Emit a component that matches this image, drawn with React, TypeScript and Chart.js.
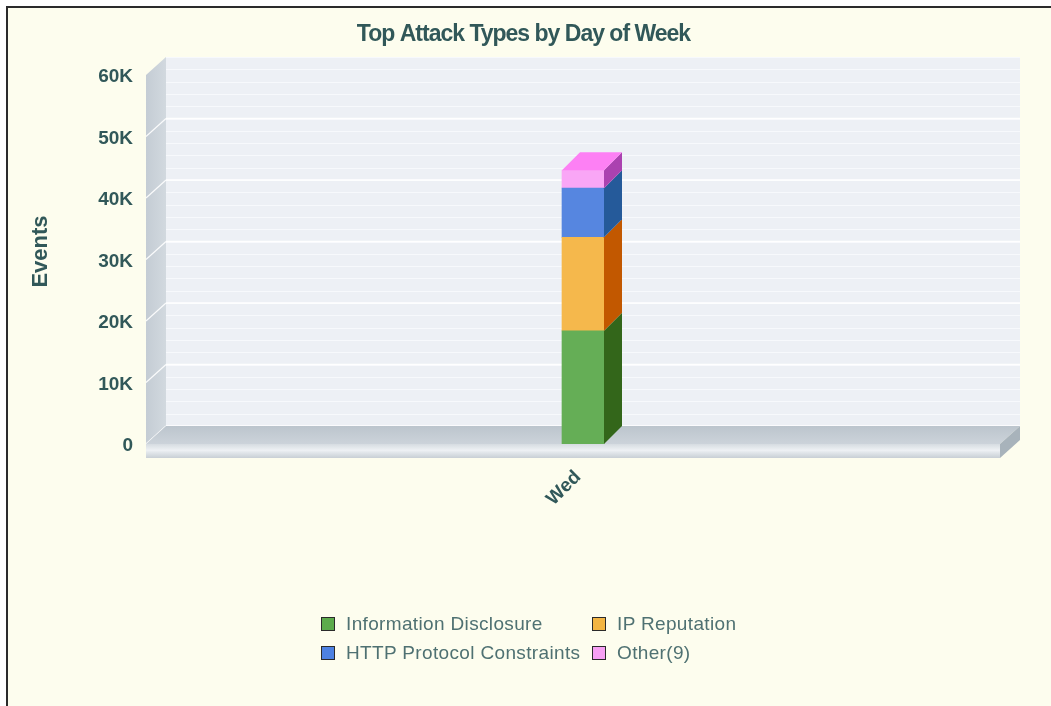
import React, { useEffect, useRef } from "react";
import { Chart, registerables } from "chart.js";

Chart.register(...registerables);

// ---------- data ----------
const categories = ["Wed"];
const seriesNames = [
  "Information Disclosure",
  "IP Reputation",
  "HTTP Protocol Constraints",
  "Other(9)",
];
const informationDisclosure = [18400];
const ipReputation = [15200];
const httpProtocolConstraints = [8000];
const other9 = [2900];
const yTickValues = [0, 10000, 20000, 30000, 40000, 50000, 60000];
const yTickLabels = ["0", "10K", "20K", "30K", "40K", "50K", "60K"];
const chartTitle = "Top Attack Types by Day of Week";
const yAxisTitle = "Events";

// ---------- style ----------
const frontColors = ["#65ae56", "#f5b84c", "#5686e0", "#f9a6f6"];
const sideColors = ["#33661a", "#c25800", "#255a9a", "#ab42b0"];
const topColors = ["#7cc46c", "#ffcc66", "#6f9cf0", "#fd80f4"];
const legendColors = ["#5cab4c", "#f3b543", "#4d81e2", "#f7a0f4"];
const TEXT_DARK = "#315859";
const TEXT_LEGEND = "#4f7172";
const FONT = '"Liberation Sans", Arial, Helvetica, sans-serif';
const WALL_DX = 20;
const WALL_DY = 18;
const FLOOR_H = 14;
const BAR_DX = 18;
const BAR_DY = 18;
const MINOR_STEP = 2000;

const threeDPlugin = {
  id: "threeD",
  beforeDatasetsDraw(chart: any) {
    const { ctx, chartArea } = chart;
    const ys = chart.scales.y;
    const L = chartArea.left;
    const R = chartArea.right;
    const T = chartArea.top;
    const B = chartArea.bottom;
    ctx.save();
    // back wall
    ctx.fillStyle = "#edf0f5";
    ctx.fillRect(L, T - WALL_DY, R + WALL_DX - L, B - T);
    // minor grid lines
    ctx.lineWidth = 1;
    ctx.strokeStyle = "#f7f9fc";
    for (let v = ys.min; v <= ys.max; v += MINOR_STEP) {
      const py = Math.round(ys.getPixelForValue(v) - WALL_DY) + 0.5;
      ctx.beginPath();
      ctx.moveTo(L, py);
      ctx.lineTo(R + WALL_DX, py);
      ctx.stroke();
    }
    // major grid lines
    ctx.strokeStyle = "#ffffff";
    ctx.lineWidth = 1.5;
    ys.ticks.forEach((t: any) => {
      if (t.value >= ys.max) return;
      const py = ys.getPixelForValue(t.value) - WALL_DY;
      ctx.beginPath();
      ctx.moveTo(L, py);
      ctx.lineTo(R + WALL_DX, py);
      ctx.stroke();
    });
    // left wall
    let g = ctx.createLinearGradient(L - WALL_DX, 0, L, 0);
    g.addColorStop(0, "#c4ccd4");
    g.addColorStop(1, "#d2d9df");
    ctx.fillStyle = g;
    ctx.beginPath();
    ctx.moveTo(L - WALL_DX, T);
    ctx.lineTo(L, T - WALL_DY);
    ctx.lineTo(L, B - WALL_DY);
    ctx.lineTo(L - WALL_DX, B);
    ctx.closePath();
    ctx.fill();
    ctx.strokeStyle = "rgba(255,255,255,0.9)";
    ctx.lineWidth = 1.2;
    ys.ticks.forEach((t: any) => {
      if (t.value >= ys.max) return;
      const py = ys.getPixelForValue(t.value);
      ctx.beginPath();
      ctx.moveTo(L - WALL_DX, py);
      ctx.lineTo(L, py - WALL_DY);
      ctx.stroke();
    });
    // floor top
    g = ctx.createLinearGradient(0, B - WALL_DY, 0, B);
    g.addColorStop(0, "#bcc5cd");
    g.addColorStop(1, "#ccd3da");
    ctx.fillStyle = g;
    ctx.beginPath();
    ctx.moveTo(L - WALL_DX, B);
    ctx.lineTo(L, B - WALL_DY);
    ctx.lineTo(R + WALL_DX, B - WALL_DY);
    ctx.lineTo(R, B);
    ctx.closePath();
    ctx.fill();
    // floor front strip
    g = ctx.createLinearGradient(0, B, 0, B + FLOOR_H);
    g.addColorStop(0, "#d6dce1");
    g.addColorStop(0.45, "#eef1f4");
    g.addColorStop(0.6, "#e2e7eb");
    g.addColorStop(1, "#c8cfd5");
    ctx.fillStyle = g;
    ctx.fillRect(L - WALL_DX, B, R - (L - WALL_DX), FLOOR_H);
    // floor right side
    ctx.fillStyle = "#a8b3bb";
    ctx.beginPath();
    ctx.moveTo(R, B);
    ctx.lineTo(R + WALL_DX, B - WALL_DY);
    ctx.lineTo(R + WALL_DX, B - WALL_DY + FLOOR_H);
    ctx.lineTo(R, B + FLOOR_H);
    ctx.closePath();
    ctx.fill();
    ctx.restore();
  },
  afterDatasetsDraw(chart: any) {
    const { ctx } = chart;
    const datasets = chart.data.datasets;
    let topIdx = -1;
    datasets.forEach((_: any, i: number) => {
      if (chart.isDatasetVisible(i)) topIdx = i;
    });
    ctx.save();
    datasets.forEach((ds: any, i: number) => {
      if (!chart.isDatasetVisible(i)) return;
      const meta = chart.getDatasetMeta(i);
      meta.data.forEach((bar: any) => {
        const { x, y, base, width } = bar.getProps(["x", "y", "base", "width"], true);
        const l = x - width / 2;
        const r = x + width / 2;
        const top = Math.min(y, base);
        const bot = Math.max(y, base);
        ctx.fillStyle = ds.sideColor;
        ctx.beginPath();
        ctx.moveTo(r, top);
        ctx.lineTo(r + BAR_DX, top - BAR_DY);
        ctx.lineTo(r + BAR_DX, bot - BAR_DY);
        ctx.lineTo(r, bot);
        ctx.closePath();
        ctx.fill();
        if (i === topIdx) {
          ctx.fillStyle = ds.topColor;
          ctx.beginPath();
          ctx.moveTo(l, top);
          ctx.lineTo(l + BAR_DX, top - BAR_DY);
          ctx.lineTo(r + BAR_DX, top - BAR_DY);
          ctx.lineTo(r, top);
          ctx.closePath();
          ctx.fill();
        }
      });
    });
    ctx.restore();
  },
  afterDraw(chart: any) {
    const { ctx, chartArea } = chart;
    ctx.save();
    // title
    ctx.fillStyle = TEXT_DARK;
    ctx.font = `bold 23px ${FONT}`;
    try {
      (ctx as any).letterSpacing = "-1px";
    } catch (e) {}
    ctx.textAlign = "center";
    ctx.textBaseline = "alphabetic";
    ctx.fillText(chartTitle, chart.width / 2 - 2, 41);
    try {
      (ctx as any).letterSpacing = "0px";
    } catch (e) {}
    // y axis title
    ctx.font = `bold 22px ${FONT}`;
    ctx.translate(47, (chartArea.top + chartArea.bottom) / 2 - 8);
    ctx.rotate(-Math.PI / 2);
    ctx.textAlign = "center";
    ctx.textBaseline = "alphabetic";
    ctx.fillText(yAxisTitle, 0, 0);
    ctx.restore();
  },
};

const seriesValues = [informationDisclosure, ipReputation, httpProtocolConstraints, other9];

export default function App() {
  const canvasRef = useRef<HTMLCanvasElement | null>(null);

  useEffect(() => {
    if (!canvasRef.current) return;
    const chart = new Chart(canvasRef.current, {
      type: "bar",
      data: {
        labels: categories,
        datasets: seriesNames.map((name, i) => ({
          label: name,
          data: seriesValues[i],
          backgroundColor: frontColors[i],
          borderWidth: 0,
          barThickness: 42,
          sideColor: sideColors[i],
          topColor: topColors[i],
        })) as any,
      },
      options: {
        animation: false,
        responsive: false,
        devicePixelRatio: 1,
        layout: { padding: { top: 75, left: 0, right: 51, bottom: 0 } },
        plugins: {
          legend: { display: false },
          title: { display: false },
          tooltip: { enabled: false },
        },
        scales: {
          x: {
            stacked: true,
            grid: { display: false, drawTicks: false },
            border: { display: false },
            ticks: {
              minRotation: 45,
              maxRotation: 45,
              padding: 22,
              labelOffset: -5,
              color: TEXT_DARK,
              font: { family: FONT, size: 19, weight: "bold" },
            },
            afterFit: (scale: any) => {
              scale.height = 262;
            },
          },
          y: {
            stacked: true,
            min: 0,
            max: 60000,
            grid: { display: false, drawTicks: false },
            border: { display: false },
            ticks: {
              stepSize: 10000,
              padding: 33,
              labelOffset: 2,
              color: TEXT_DARK,
              font: { family: FONT, size: 19, weight: "bold" },
              callback: (v: any) => {
                const idx = yTickValues.indexOf(Number(v));
                return idx >= 0 ? yTickLabels[idx] : "";
              },
            },
            afterFit: (scale: any) => {
              scale.width = 166;
            },
          },
        },
      },
      plugins: [threeDPlugin],
    });
    return () => chart.destroy();
  }, []);

  return (
    <>
      <div
        style={{
          position: "fixed",
          left: 6,
          top: 6,
          right: 0,
          bottom: 0,
          borderLeft: "2px solid #2b2b2b",
          borderTop: "2px solid #2b2b2b",
          background: "#fdfdee",
        }}
      />
      <canvas
        ref={canvasRef}
        width={1051}
        height={706}
        style={{ position: "fixed", left: 0, top: 0, width: 1051, height: 706 }}
      />
      <div
        style={{
          position: "fixed",
          left: 321,
          top: 610,
          display: "grid",
          gridTemplateColumns: "271px auto",
          gridAutoRows: "28.5px",
          font: `19px ${FONT}`,
          letterSpacing: "0.35px",
          color: TEXT_LEGEND,
        }}
      >
        {seriesNames.map((name, i) => (
          <div key={name} style={{ display: "flex", alignItems: "center", whiteSpace: "nowrap" }}>
            <span
              style={{
                display: "inline-block",
                width: 14,
                height: 14,
                boxSizing: "border-box",
                border: "1px solid #2a2a2a",
                background: legendColors[i],
                marginRight: 11,
              }}
            />
            <span>{name}</span>
          </div>
        ))}
      </div>
    </>
  );
}
